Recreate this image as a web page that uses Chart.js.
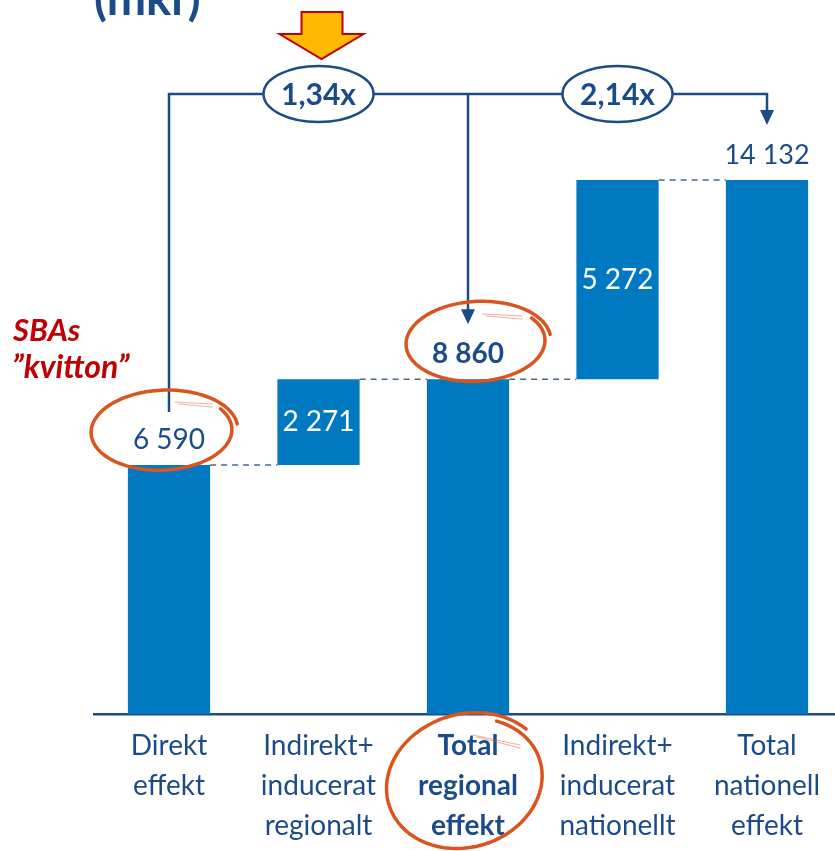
<!DOCTYPE html>
<html>
<head>
<meta charset="utf-8">
<script src="https://cdn.jsdelivr.net/npm/chart.js@4/dist/chart.umd.min.js"></script>
<style>
  html, body { margin: 0; padding: 0; background: #fff; overflow: hidden; }
  #wrap { width: 850px; height: 851px; }
</style>
</head>
<body>
<div id="wrap"><canvas id="chart" width="850" height="851"></canvas></div>
<script>
// waterfall data (mkr)
const categories = [
  ['Direkt', 'effekt'],
  ['Indirekt+', 'inducerat', 'regionalt'],
  ['Total', 'regional', 'effekt'],
  ['Indirekt+', 'inducerat', 'nationellt'],
  ['Total', 'nationell', 'effekt']
];
const values = [6590, 2271, 8860, 5272, 14132];
const bases = [0, 6590, 0, 8860, 0];
const valueLabels = ['6 590', '2 271', '8 860', '5 272', '14 132'];
const multipliers = ['1,34x', '2,14x'];

const blue = '#0079c1';
const navy = '#1b4c88';
const orange = '#d9541e';
const FONT = 'Lato, "Open Sans", sans-serif';

// hand drawn ring, radius grows a bit so the ends overlap
function ring(ctx, cx, cy, rx, ry, rot, a0, sweep, tail) {
  ctx.save();
  ctx.strokeStyle = orange;
  ctx.lineWidth = 3.5;
  ctx.lineCap = 'round';
  ctx.beginPath();
  const n = 80;
  for (let k = 0; k <= n; k++) {
    const t = k / n;
    const a = a0 + sweep * t;
    const f = 0.95 + 0.09 * t;
    const px = rx * f * Math.cos(a), py = ry * f * Math.sin(a);
    const x = cx + px * Math.cos(rot) - py * Math.sin(rot);
    const y = cy + px * Math.sin(rot) + py * Math.cos(rot);
    if (k === 0) ctx.moveTo(x, y); else ctx.lineTo(x, y);
  }
  ctx.stroke();
  if (tail) {
    ctx.lineWidth = 1.2;
    ctx.globalAlpha = 0.45;
    ctx.beginPath();
    ctx.moveTo(tail[0], tail[1]);
    ctx.lineTo(tail[2], tail[3]);
    ctx.moveTo(tail[0] + 4, tail[1] + 2);
    ctx.lineTo(tail[2], tail[3] + 3);
    ctx.stroke();
  }
  ctx.restore();
}

function badge(ctx, cx, cy, txt) {
  ctx.save();
  ctx.beginPath();
  ctx.ellipse(cx, cy, 55, 28, 0, 0, Math.PI * 2);
  ctx.fillStyle = '#fff';
  ctx.fill();
  ctx.lineWidth = 2.5;
  ctx.strokeStyle = navy;
  ctx.stroke();
  ctx.fillStyle = navy;
  ctx.font = 'bold 30px ' + FONT;
  ctx.textAlign = 'center';
  ctx.textBaseline = 'middle';
  ctx.fillText(txt, cx, cy + 1);
  ctx.restore();
}

function arrowHead(ctx, x, tipY) {
  ctx.beginPath();
  ctx.moveTo(x - 7, tipY - 15);
  ctx.lineTo(x + 7, tipY - 15);
  ctx.lineTo(x, tipY);
  ctx.closePath();
  ctx.fill();
}

const extras = {
  id: 'extras',
  afterDatasetsDraw(chart) {
    const ctx = chart.ctx;
    const xs = chart.scales.x, ys = chart.scales.y;
    const meta = chart.getDatasetMeta(0);
    const cx = values.map((v, i) => xs.getPixelForValue(i));
    const top = values.map((v, i) => ys.getPixelForValue(bases[i] + v));
    const bot = values.map((v, i) => ys.getPixelForValue(bases[i]));
    const half = meta.data[0].width / 2;

    // dashed step connectors
    ctx.save();
    ctx.strokeStyle = '#4a6a90';
    ctx.lineWidth = 1.5;
    ctx.setLineDash([6, 5]);
    ctx.beginPath();
    ctx.moveTo(cx[0] + half, top[0]); ctx.lineTo(cx[1] - half, top[0]);
    ctx.moveTo(cx[1] + half, top[1]); ctx.lineTo(cx[2] - half, top[1]);
    ctx.moveTo(cx[2] + half, top[2]); ctx.lineTo(cx[3] - half, top[2]);
    ctx.moveTo(cx[3] + half, top[3]); ctx.lineTo(cx[4] - half, top[3]);
    ctx.stroke();
    ctx.restore();

    // value labels
    ctx.save();
    ctx.textAlign = 'center';
    ctx.textBaseline = 'middle';
    values.forEach((v, i) => {
      const floating = bases[i] > 0;
      ctx.font = (i === 2 ? 'bold ' : '') + (i === 4 ? '27px ' : '28px ') + FONT;
      if (floating) {
        ctx.fillStyle = '#fff';
        ctx.fillText(valueLabels[i], cx[i], (top[i] + bot[i]) / 2);
      } else {
        ctx.fillStyle = navy;
        ctx.fillText(valueLabels[i], cx[i], top[i] - 25);
      }
    });
    ctx.restore();

    // multiplier connectors
    const lineY = 94;
    ctx.save();
    ctx.strokeStyle = navy;
    ctx.fillStyle = navy;
    ctx.lineWidth = 2.5;
    ctx.beginPath();
    ctx.moveTo(cx[0], top[0] - 53);
    ctx.lineTo(cx[0], lineY);
    ctx.lineTo(cx[4], lineY);
    ctx.lineTo(cx[4], top[4] - 68);
    ctx.moveTo(cx[2], lineY);
    ctx.lineTo(cx[2], top[2] - 68);
    ctx.stroke();
    arrowHead(ctx, cx[2], top[2] - 55);
    arrowHead(ctx, cx[4], top[4] - 55);
    ctx.restore();
    badge(ctx, cx[1], lineY, multipliers[0]);
    badge(ctx, cx[3], lineY, multipliers[1]);

    // big orange arrow
    const ax = cx[1] + 3;
    ctx.save();
    ctx.beginPath();
    ctx.moveTo(ax - 20, 12);
    ctx.lineTo(ax + 21, 12);
    ctx.lineTo(ax + 21, 34);
    ctx.lineTo(ax + 42, 34);
    ctx.lineTo(ax, 59);
    ctx.lineTo(ax - 42, 34);
    ctx.lineTo(ax - 20, 34);
    ctx.closePath();
    ctx.fillStyle = '#ffb900';
    ctx.fill();
    ctx.strokeStyle = '#c00000';
    ctx.lineWidth = 2;
    ctx.stroke();
    ctx.restore();

    // titles
    ctx.save();
    ctx.fillStyle = navy;
    ctx.font = 'bold 47px ' + FONT;
    ctx.textAlign = 'left';
    ctx.textBaseline = 'alphabetic';
    ctx.fillText('(mkr)', 94, 15);
    ctx.fillStyle = '#c00000';
    ctx.font = 'italic bold 31px ' + FONT;
    ctx.textBaseline = 'middle';
    ctx.fillText('SBAs', 13, 331);
    ctx.font = 'italic bold 32px ' + FONT;
    ctx.fillText('\u201D' + 'kvitton' + '\u201D', 12, 368);
    ctx.restore();

    // hand drawn highlights
    ring(ctx, cx[0] - 6, top[0] - 34, 72, 40, -0.04, -0.55, Math.PI * 2 + 0.45, [175, 402, 212, 404]);
    ring(ctx, cx[2] + 9, top[2] - 37, 71, 40, -0.05, -0.6, Math.PI * 2 + 0.5, [482, 314, 522, 316]);
    ring(ctx, cx[2] - 2, 782, 80, 66, -0.3, -0.9, Math.PI * 2 + 0.4, [473, 735, 520, 745]);
  }
};

new Chart(document.getElementById('chart'), {
  type: 'bar',
  data: {
    labels: categories,
    datasets: [{
      data: values.map((v, i) => [bases[i], bases[i] + v]),
      backgroundColor: blue,
      borderSkipped: false,
      barPercentage: 0.55,
      categoryPercentage: 1
    }]
  },
  options: {
    responsive: false,
    animation: false,
    devicePixelRatio: 1,
    layout: { padding: { top: 109.4, left: 94.25, right: 8.25, bottom: 0 } },
    plugins: { legend: { display: false }, tooltip: { enabled: false } },
    scales: {
      x: {
        afterFit(scale) { scale.height = 137; },
        grid: { display: false, drawTicks: false },
        border: { display: true, color: navy, width: 2.5 },
        ticks: {
          color: navy,
          padding: 12,
          maxRotation: 0,
          autoSkip: false,
          font: ctx => ({ family: FONT, size: 28, lineHeight: 1.43, weight: ctx.index === 2 ? 'bold' : 'normal' })
        }
      },
      y: {
        display: false,
        min: 0,
        max: 16000
      }
    }
  },
  plugins: [extras]
});
</script>
</body>
</html>
